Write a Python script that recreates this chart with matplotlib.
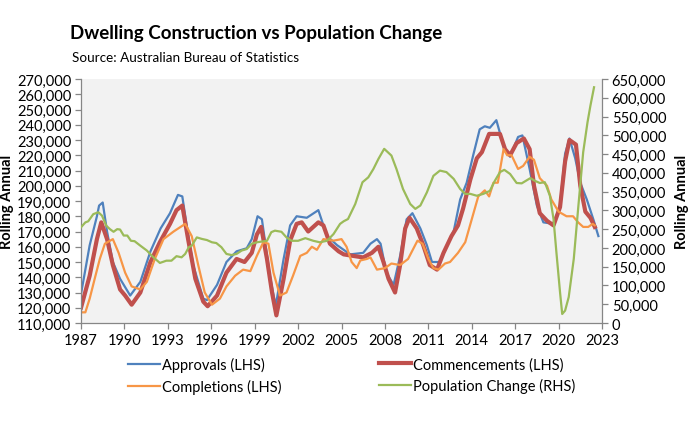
import matplotlib
matplotlib.use("Agg")
import matplotlib.pyplot as plt
from matplotlib.ticker import FuncFormatter

plt.rcParams['font.family'] = ['Lato', 'DejaVu Sans']

# Data (year as decimal, values in thousands)
appr_t = [1987.0, 1987.6, 1988.1, 1988.25, 1988.5, 1988.8, 1989.2, 1989.7, 1990.4, 1991.1,
          1991.8, 1992.5, 1993.15, 1993.7, 1994.0, 1994.3, 1994.75, 1995.45, 1995.7, 1996.4,
          1997.05, 1997.75, 1998.45, 1998.8, 1999.2, 1999.5, 2000.05, 2000.45, 2001.0, 2001.45,
          2001.9, 2002.6, 2003.4, 2004.0, 2004.7, 2005.6, 2006.5, 2007.0, 2007.45, 2007.7,
          2008.1, 2008.6, 2009.05, 2009.5, 2009.9, 2010.45, 2010.9, 2011.25, 2011.8, 2012.3,
          2012.75, 2013.2, 2013.65, 2014.1, 2014.55, 2014.9, 2015.25, 2015.7, 2016.2, 2016.65,
          2017.2, 2017.5, 2018.0, 2018.5, 2018.95, 2019.65, 2020.1, 2020.45, 2020.75, 2021.15,
          2021.5, 2021.95, 2022.4, 2022.75]
appr_v = [129, 161, 180, 187, 189, 170, 150, 139, 128, 137,
          157, 172, 182, 194, 193, 174, 148, 126, 125, 135,
          150, 157, 159, 165, 180, 178, 141, 121, 152, 174,
          180, 179, 184, 167, 161, 155, 156, 162, 165, 162,
          143, 135, 154, 178, 182, 172, 161, 150, 150, 161,
          170, 191, 202, 220, 237, 239, 238, 243, 226, 219,
          232, 233, 211, 187, 176, 175, 187, 221, 231, 218,
          202, 191, 178, 167]

comm_t = [1987.0, 1987.6, 1988.1, 1988.4, 1988.8, 1989.2, 1989.7, 1990.05, 1990.5, 1991.1,
          1991.8, 1992.45, 1993.15, 1993.6, 1994.0, 1994.4, 1994.9, 1995.45, 1995.75, 1996.4,
          1997.05, 1997.75, 1998.3, 1998.8, 1999.15, 1999.45, 1999.85, 2000.2, 2000.5, 2001.0,
          2001.45, 2001.9, 2002.25, 2002.7, 2003.4, 2003.75, 2004.2, 2004.8, 2005.15, 2005.8,
          2006.5, 2007.1, 2007.55, 2007.9, 2008.25, 2008.7, 2009.05, 2009.4, 2009.7, 2010.2,
          2010.65, 2011.1, 2011.6, 2012.05, 2012.6, 2013.05, 2013.4, 2013.9, 2014.35, 2014.7,
          2015.2, 2015.95, 2016.3, 2016.65, 2017.1, 2017.6, 2018.0, 2018.3, 2018.7, 2019.2,
          2019.65, 2020.1, 2020.45, 2020.75, 2021.2, 2021.5, 2021.85, 2022.2, 2022.5]
comm_v = [120, 141, 165, 176, 165, 148, 132, 128, 122, 130,
          150, 163, 175, 184, 187, 165, 139, 124, 121, 128,
          143, 152, 150, 156, 168, 173, 152, 130, 115, 139,
          164, 175, 176, 170, 176, 174, 162, 157, 155, 154,
          153, 156, 160, 150, 139, 130, 148, 172, 179, 172,
          161, 148, 145, 156, 167, 174, 185, 204, 218, 222,
          234, 234, 224, 220, 228, 231, 224, 200, 182, 177,
          174, 186, 216, 230, 227, 200, 183, 179, 173]

comp_t = [1987.0, 1987.3, 1987.6, 1988.0, 1988.3, 1988.65, 1989.2, 1989.6, 1990.05, 1990.5,
          1991.1, 1991.55, 1992.1, 1992.7, 1993.4, 1994.2, 1994.65, 1995.1, 1995.55, 1996.05,
          1996.6, 1997.05, 1997.65, 1998.2, 1998.7, 1999.15, 1999.6, 1999.95, 2000.3, 2000.75,
          2001.2, 2001.65, 2002.15, 2002.6, 2002.95, 2003.3, 2003.75, 2004.45, 2005.0, 2005.35,
          2005.7, 2006.05, 2006.3, 2006.75, 2007.0, 2007.45, 2008.0, 2008.45, 2009.05, 2009.6,
          2010.25, 2010.6, 2011.0, 2011.35, 2011.7, 2012.15, 2012.5, 2013.05, 2013.55, 2014.0,
          2014.45, 2014.9, 2015.2, 2015.5, 2015.8, 2016.2, 2016.45, 2016.75, 2017.2, 2017.55,
          2018.0, 2018.3, 2018.7, 2019.2, 2019.5, 2020.0, 2020.55, 2021.0, 2021.35, 2021.7,
          2022.05, 2022.35, 2022.5]
comp_v = [117, 117, 126, 141, 152, 162, 165, 156, 143, 134,
          132, 137, 152, 165, 170, 175, 167, 148, 130, 122,
          126, 134, 141, 145, 144, 154, 163, 162, 143, 128,
          130, 141, 154, 156, 160, 158, 165, 164, 165, 160,
          150, 146, 151, 152, 153, 145, 146, 149, 148, 152,
          164, 162, 152, 146, 145, 149, 150, 156, 163, 178,
          193, 197, 193, 202, 202, 224, 220, 220, 211, 213,
          219, 217, 205, 200, 191, 183, 180, 180, 176, 173,
          173, 175, 174]

pop_t = [1987.0, 1987.3, 1987.5, 1987.85, 1988.2, 1988.45, 1988.75, 1989.0, 1989.25, 1989.5,
         1989.7, 1989.95, 1990.2, 1990.45, 1990.7, 1991.1, 1991.55, 1992.0, 1992.45, 1992.9,
         1993.25, 1993.6, 1993.95, 1994.2, 1994.45, 1994.65, 1995.0, 1995.35, 1995.7, 1996.05,
         1996.35, 1996.7, 1997.05, 1997.4, 1997.75, 1998.1, 1998.45, 1998.8, 1999.15, 1999.5,
         1999.85, 2000.15, 2000.4, 2000.85, 2001.2, 2001.55, 2002.0, 2002.5, 2003.05, 2003.5,
         2004.0, 2004.45, 2004.9, 2005.15, 2005.45, 2005.95, 2006.45, 2006.85, 2007.2, 2007.55,
         2007.95, 2008.45, 2008.8, 2009.25, 2009.75, 2010.1, 2010.45, 2010.9, 2011.35, 2011.8,
         2012.25, 2012.75, 2013.2, 2013.55, 2013.9, 2014.35, 2014.8, 2015.25, 2015.6, 2015.95,
         2016.25, 2016.65, 2017.1, 2017.45, 2018.05, 2018.35, 2018.7, 2019.05, 2019.4, 2019.65,
         2019.85, 2020.1, 2020.25, 2020.45, 2020.7, 2021.05, 2021.35, 2021.7, 2022.0, 2022.2,
         2022.45]
pop_v = [255, 268, 271, 290, 295, 286, 259, 250, 243, 250,
         249, 233, 233, 219, 218, 206, 193, 175, 160, 166,
         166, 178, 175, 184, 202, 206, 228, 224, 221, 215,
         213, 202, 184, 181, 184, 193, 197, 211, 215, 217,
         219, 242, 246, 243, 228, 219, 219, 226, 219, 215,
         219, 237, 264, 271, 277, 317, 375, 388, 410, 437,
         464, 446, 410, 357, 317, 304, 313, 348, 392, 406,
         402, 384, 357, 344, 344, 339, 344, 352, 379, 402,
         408, 397, 373, 372, 386, 379, 373, 375, 339, 277,
         188, 82, 24, 33, 69, 171, 304, 455, 535, 579,
         628]

year_ticks = list(range(1987, 2024, 3))
lhs_ticks = list(range(110000, 270001, 10000))
rhs_ticks = list(range(0, 650001, 50000))

grey = '#868686'
fs = 10.5

fig = plt.figure(figsize=(6.9, 4.31), dpi=100)
ax = fig.add_axes([81/690, 1 - 324/431, 521/690, 244/431])
ax.set_facecolor('#F2F2F2')
ax2 = ax.twinx()

k = 1000
l1, = ax.plot(appr_t, [v * k for v in appr_v], color='#4F81BD', lw=1.6, label='Approvals (LHS)')
l2, = ax.plot(comm_t, [v * k for v in comm_v], color='#C0504D', lw=3.0, label='Commencements (LHS)')
l3, = ax.plot(comp_t, [v * k for v in comp_v], color='#F79646', lw=1.6, label='Completions (LHS)')
l4, = ax2.plot(pop_t, [v * k for v in pop_v], color='#9BBB59', lw=1.6, label='Population Change (RHS)')

ax.set_xlim(1987, 2023)
ax.set_ylim(110000, 270000)
ax2.set_ylim(0, 650000)
ax.set_xticks(year_ticks)
ax.set_yticks(lhs_ticks)
ax2.set_yticks(rhs_ticks)
fmt = FuncFormatter(lambda v, p: f'{int(v):,}')
ax.yaxis.set_major_formatter(fmt)
ax2.yaxis.set_major_formatter(fmt)

for a in (ax, ax2):
    for s in a.spines.values():
        s.set_visible(False)
    a.tick_params(colors=grey, labelcolor='black', labelsize=fs, length=4, width=0.9, direction='out', pad=3)
ax.spines['left'].set_visible(True)
ax.spines['bottom'].set_visible(True)
ax2.spines['right'].set_visible(True)
for s in (ax.spines['left'], ax.spines['bottom'], ax2.spines['right']):
    s.set_color(grey)
    s.set_linewidth(0.9)

ax.set_ylabel('Rolling Annual', fontsize=fs, fontweight='bold')
ax2.set_ylabel('Rolling Annual', fontsize=fs, fontweight='bold')
ax.yaxis.set_label_coords(-0.1286, 0.5)
ax2.yaxis.set_label_coords(1.140, 0.5)

fig.text(70/690, 1 - 33/431, 'Dwelling Construction vs Population Change',
         fontsize=13.5, fontweight='bold', ha='left', va='center')
fig.text(72/690, 1 - 58/431, 'Source: Australian Bureau of Statistics',
         fontsize=9.7, ha='left', va='center')

leg_kw = dict(frameon=False, fontsize=fs, handlelength=2.2, handletextpad=0.1,
              borderpad=0, borderaxespad=0, labelspacing=0.45, loc='upper left')
fig.legend([l1, l3], ['Approvals (LHS)', 'Completions (LHS)'],
           bbox_to_anchor=(128/690, 1 - 358/431), **leg_kw)
fig.legend([l2, l4], ['Commencements (LHS)', 'Population Change (RHS)'],
           bbox_to_anchor=(379/690, 1 - 358/431), **leg_kw)

fig.savefig('out.png', dpi=100)
